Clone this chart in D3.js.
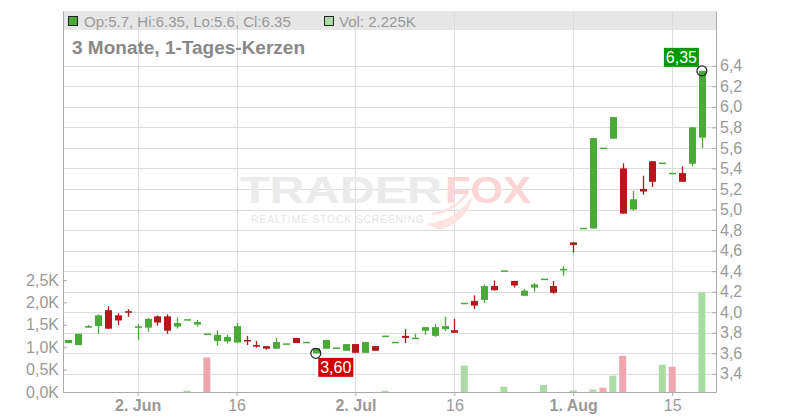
<!DOCTYPE html>
<html><head><meta charset="utf-8">
<script src="https://cdn.jsdelivr.net/npm/d3@7"></script>
<style>body{margin:0;background:#fff}svg{display:block;font-family:"Liberation Sans",Arial,sans-serif}</style>
</head><body><svg id="c" width="800" height="420"></svg>
<script>
const dates = ["2025-05-22","2025-05-23","2025-05-26","2025-05-27","2025-05-28","2025-05-29","2025-05-30",
"2025-06-02","2025-06-03","2025-06-04","2025-06-05","2025-06-06","2025-06-09","2025-06-10","2025-06-11","2025-06-12","2025-06-13",
"2025-06-16","2025-06-17","2025-06-18","2025-06-19","2025-06-20","2025-06-23","2025-06-24","2025-06-25","2025-06-26","2025-06-27","2025-06-30",
"2025-07-01","2025-07-02","2025-07-03","2025-07-04","2025-07-07","2025-07-08","2025-07-09","2025-07-10","2025-07-11",
"2025-07-14","2025-07-15","2025-07-16","2025-07-17","2025-07-18","2025-07-21","2025-07-22","2025-07-23","2025-07-24","2025-07-25",
"2025-07-28","2025-07-29","2025-07-30","2025-07-31","2025-08-01","2025-08-04","2025-08-05","2025-08-06","2025-08-07","2025-08-08",
"2025-08-11","2025-08-12","2025-08-13","2025-08-14","2025-08-15","2025-08-18","2025-08-19","2025-08-20"];
const open  = [3.70,3.68,3.85,3.865,4.02,3.97,4.01,3.85,3.85,3.96,3.96,3.86,3.925,3.88,3.785,3.72,3.715,3.705,3.73,3.68,3.67,3.645,3.69,3.75,3.705,3.60,3.645,3.65,3.625,3.69,3.605,3.67,3.765,3.705,3.77,3.745,3.82,3.77,3.835,3.825,4.085,4.11,4.12,4.255,4.40,4.305,4.16,4.24,4.32,4.255,4.405,4.68,4.815,4.815,5.595,5.69,5.40,5.00,5.20,5.47,5.45,5.35,5.355,5.445,5.70];
const high  = [3.73,3.79,3.875,3.98,4.06,3.99,4.03,3.885,3.945,3.97,3.98,3.95,3.925,3.925,3.785,3.825,3.78,3.895,3.77,3.72,3.67,3.75,3.69,3.75,3.705,3.65,3.73,3.65,3.69,3.69,3.71,3.67,3.765,3.705,3.835,3.79,3.855,3.885,3.955,3.935,4.085,4.165,4.27,4.31,4.40,4.305,4.225,4.285,4.32,4.305,4.45,4.68,4.815,5.695,5.595,5.90,5.45,5.18,5.33,5.47,5.45,5.35,5.42,5.80,6.35];
const low   = [3.70,3.68,3.85,3.79,3.84,3.875,3.955,3.73,3.81,3.87,3.79,3.84,3.925,3.86,3.785,3.675,3.695,3.705,3.68,3.655,3.635,3.645,3.69,3.70,3.705,3.60,3.645,3.65,3.625,3.605,3.605,3.625,3.765,3.705,3.70,3.745,3.78,3.76,3.815,3.80,4.085,4.03,4.09,4.21,4.40,4.24,4.16,4.20,4.32,4.18,4.355,4.58,4.815,4.815,5.595,5.69,4.96,4.99,5.145,5.22,5.45,5.35,5.27,5.42,5.60];
const close = [3.73,3.79,3.865,3.97,3.84,3.92,3.995,3.855,3.935,3.90,3.82,3.895,3.925,3.905,3.785,3.78,3.76,3.865,3.715,3.665,3.645,3.71,3.69,3.70,3.705,3.65,3.73,3.65,3.69,3.605,3.71,3.625,3.765,3.705,3.75,3.745,3.855,3.855,3.865,3.80,4.085,4.065,4.255,4.215,4.40,4.26,4.21,4.27,4.32,4.19,4.415,4.655,4.815,5.695,5.595,5.90,4.96,5.10,5.175,5.27,5.45,5.35,5.27,5.80,6.35];
// volume in thousands
const volume = [0,0,0,0,0,0,0,0,0,0,0,0,0.03,0,0.77,0,0,0,0,0,0,0,0,0,0,0,0,0,0,0,0,0,0.03,0,0,0,0,0,0,0,0.59,0,0,0,0.12,0,0,0,0.16,0,0,0.035,0,0.055,0.095,0.365,0.81,0,0,0,0.61,0.565,0,0,2.225];
const priceTicks = [3.4,3.6,3.8,4.0,4.2,4.4,4.6,4.8,5.0,5.2,5.4,5.6,5.8,6.0,6.2,6.4];
const volumeTicks = [0,0.5,1.0,1.5,2.0,2.5];
const dateTicks = ["2025-06-02","2025-06-16","2025-07-02","2025-07-16","2025-08-01","2025-08-15"];
const dateTickLabels = ["2. Jun","16","2. Jul","16","1. Aug","15"];
const dateTickBold = [true,false,true,false,true,false];
const titleText = "3 Monate, 1-Tages-Kerzen";
const legendOHLC = "Op:5.7, Hi:6.35, Lo:5.6, Cl:6.35";
const legendVol = "Vol: 2.225K";

const L=63,R=716,T=11,B=392;
const GREEN="#4aaa38", RED="#b3181c", VGREEN="#abdba4", VRED="#eea7b0";
const svg=d3.select("#c");
const x=d3.scalePoint().domain(dates).range([68.3,701.9]);
const y=d3.scaleLinear().domain([3.2235,6.9326]).range([B,T]);
const yv=d3.scaleLinear().domain([0,8.505]).range([B,T]);
const fmt1=v=>d3.format(".1f")(v).replace(".",",");

// legend band
svg.append("rect").attr("x",L).attr("y",T).attr("width",R-L).attr("height",19).attr("fill","#e6e6e6");

// grid
svg.append("g").selectAll("line").data(priceTicks).join("line")
  .attr("x1",L).attr("x2",R).attr("y1",d=>Math.round(y(d))+0.5).attr("y2",d=>Math.round(y(d))+0.5)
  .attr("stroke","#dcdcdc");
svg.append("g").selectAll("line").data(dateTicks).join("line")
  .attr("x1",d=>Math.round(x(d))+0.5).attr("x2",d=>Math.round(x(d))+0.5).attr("y1",T).attr("y2",B)
  .attr("stroke","#dcdcdc");

// watermark
const wm=svg.append("g");
wm.append("path").attr("d","M426,224 C446,222 462,212 472,196 C470,212 458,224 440,230 Z").attr("fill","#fde2e2");
wm.append("path").attr("d","M432,214 C448,212 460,204 468,192").attr("fill","none").attr("stroke","#fde2e2").attr("stroke-width",3);
wm.append("text").attr("x",240).attr("y",203).attr("font-size",37).attr("font-weight","bold")
  .attr("fill","#ebebeb").attr("textLength",202).attr("lengthAdjust","spacingAndGlyphs").text("TRADER");
wm.append("text").attr("x",445).attr("y",203).attr("font-size",37).attr("font-weight","bold")
  .attr("fill","#fcd6d6").attr("textLength",86).attr("lengthAdjust","spacingAndGlyphs").text("FOX");
wm.append("text").attr("x",251).attr("y",223).attr("font-size",10.5)
  .attr("fill","#e6e6e6").attr("textLength",173).attr("lengthAdjust","spacing").text("REALTIME STOCK SCREENING");

// volume bars
const data=dates.map((d,i)=>({d,o:open[i],h:high[i],l:low[i],c:close[i],v:volume[i],prev:i>0?close[i-1]:open[i]}));
svg.append("g").selectAll("rect").data(data.filter(e=>e.v>0)).join("rect")
  .attr("x",e=>x(e.d)-3.5).attr("width",7)
  .attr("y",e=>yv(e.v)).attr("height",e=>B-yv(e.v))
  .attr("fill",e=>e.c>=e.prev?VGREEN:VRED);

// candles
const cg=svg.append("g");
cg.selectAll("line").data(data).join("line")
  .attr("x1",e=>Math.round(x(e.d))+0.5).attr("x2",e=>Math.round(x(e.d))+0.5)
  .attr("y1",e=>y(e.h)).attr("y2",e=>y(e.l))
  .attr("stroke",e=>e.c>=e.o?GREEN:RED).attr("stroke-width",1.3);
cg.selectAll("rect").data(data).join("rect")
  .attr("x",e=>Math.round(x(e.d))-3).attr("width",7)
  .attr("y",e=>Math.min(y(e.o),y(e.c))-(Math.abs(y(e.o)-y(e.c))<1.5?0.75:0))
  .attr("height",e=>Math.max(1.5,Math.abs(y(e.o)-y(e.c))))
  .attr("fill",e=>e.c>=e.o?GREEN:RED);

// axes
const axCol="#aaa", txtCol="#999";
const ay=svg.append("g").attr("transform",`translate(${R},0)`)
  .call(d3.axisRight(y).tickValues(priceTicks).tickSizeInner(-4).tickSizeOuter(0).tickPadding(4).tickFormat(fmt1));
const av=svg.append("g").attr("transform",`translate(${L},0)`)
  .call(d3.axisLeft(yv).tickValues(volumeTicks).tickSizeInner(-4).tickSizeOuter(0).tickPadding(4).tickFormat(d=>fmt1(d)+"K"));
const ax=svg.append("g").attr("transform",`translate(0,${B})`)
  .call(d3.axisBottom(x).tickValues(dateTicks).tickSize(4).tickPadding(4).tickFormat((d,i)=>dateTickLabels[i]));
ax.select(".domain").remove();
svg.append("line").attr("x1",L).attr("x2",R+0.5).attr("y1",B+0.5).attr("y2",B+0.5).attr("stroke",axCol);
[ay,av,ax].forEach(g=>{
  g.selectAll(".domain").attr("stroke",axCol);
  g.selectAll(".tick line").attr("stroke",axCol);
  g.selectAll(".tick text").attr("fill",txtCol).attr("font-size",16).attr("font-family","Liberation Sans, Arial, sans-serif");
});
ax.selectAll(".tick text").attr("font-weight",(d,i)=>dateTickBold[i]?"bold":"normal");

// legend
svg.append("rect").attr("x",68.5).attr("y",16.5).attr("width",9).attr("height",9).attr("fill",GREEN).attr("stroke","#222");
svg.append("text").attr("x",84).attr("y",27).attr("font-size",15).attr("fill",txtCol).text(legendOHLC);
svg.append("rect").attr("x",324.5).attr("y",16.5).attr("width",9).attr("height",9).attr("fill",VGREEN).attr("stroke","#222");
svg.append("text").attr("x",339).attr("y",27).attr("font-size",15).attr("fill",txtCol).text(legendVol);
svg.append("text").attr("x",72).attr("y",54).attr("font-size",18).attr("font-weight","bold").attr("fill","#888")
  .attr("textLength",233).attr("lengthAdjust","spacingAndGlyphs").text(titleText);

// min / max annotations
const iMin=d3.minIndex(low), iMax=d3.maxIndex(high);
const fmt2=v=>d3.format(".2f")(v).replace(".",",");
const mx=x(dates[iMin]), my=y(low[iMin]);
svg.append("rect").attr("x",mx+2.5).attr("y",my+4.5).attr("width",35).attr("height",19).attr("fill","#cc0000");
svg.append("text").attr("x",mx+20).attr("y",my+20).attr("text-anchor","middle").attr("font-size",16).attr("fill","#fff").text(fmt2(low[iMin]));
svg.append("circle").attr("cx",mx).attr("cy",my).attr("r",5).attr("fill","none").attr("stroke","#222").attr("stroke-width",1.2);
const hx=x(dates[iMax]), hy=y(high[iMax]);
svg.append("rect").attr("x",hx-38).attr("y",hy-23).attr("width",35).attr("height",19).attr("fill","#009900");
svg.append("text").attr("x",hx-20.5).attr("y",hy-7.5).attr("text-anchor","middle").attr("font-size",16).attr("fill","#fff").text(fmt2(high[iMax]));
svg.append("circle").attr("cx",hx).attr("cy",hy).attr("r",5).attr("fill","none").attr("stroke","#222").attr("stroke-width",1.2);
</script></body></html>
